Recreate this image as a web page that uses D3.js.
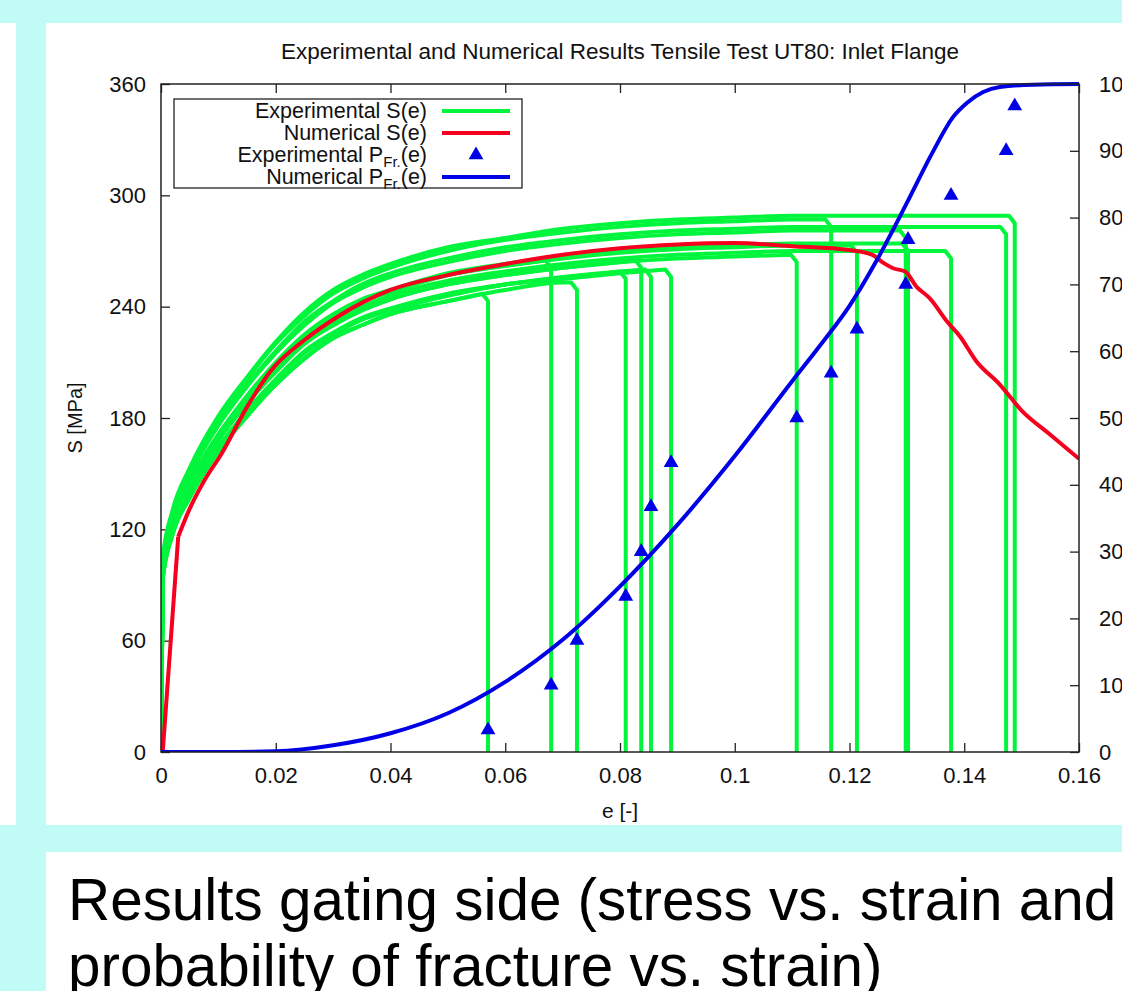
<!DOCTYPE html>
<html>
<head>
<meta charset="utf-8">
<script src="https://cdn.jsdelivr.net/npm/d3@7"></script>
<style>
  html, body { margin: 0; padding: 0; background: #c1fbf5; overflow: hidden; }
  svg { display: block; font-family: "Liberation Sans", Arial, sans-serif; }
</style>
</head>
<body>
<svg id="chart" width="1122" height="991"></svg>
<script>
// ---- data ----
const xTicks = [0, 0.02, 0.04, 0.06, 0.08, 0.1, 0.12, 0.14, 0.16]
const xTickLabels = ["0", "0.02", "0.04", "0.06", "0.08", "0.1", "0.12", "0.14", "0.16"]
const yTicks = [0, 60, 120, 180, 240, 300, 360]
const y2Ticks = [0, 10, 20, 30, 40, 50, 60, 70, 80, 90, 100]

// experimental stress-strain curves: common strain grid, one stress list per specimen
const strainGrid = [0, 0.0003, 0.002, 0.005, 0.01, 0.015, 0.02, 0.025, 0.03, 0.035, 0.04, 0.05, 0.06, 0.07, 0.08, 0.09, 0.10, 0.11, 0.12, 0.13, 0.14]
const fractureStrain = [0.0570, 0.0680, 0.0725, 0.0810, 0.0837, 0.0854, 0.0889, 0.1108, 0.1168, 0.1213, 0.1298, 0.1302, 0.1377, 0.1473, 0.1488]
const fractureStress = [247, 265, 253, 259, 265, 260, 260, 268, 287, 273, 281, 274, 270, 283, 289]
const expStress = [
  [0, 93, 117, 137, 162, 181, 198, 212, 223, 230, 236, 243],
  [0, 98, 123, 145, 171, 191, 209, 224, 235, 243, 248, 257, 262],
  [0, 93, 117, 137, 162, 181, 198, 212, 223, 230, 236, 243, 249, 253],
  [0, 94, 118, 139, 164, 183, 200, 215, 225, 233, 238, 246, 252, 255],
  [0, 96, 121, 142, 168, 188, 205, 220, 230, 238, 244, 252, 257, 261, 264],
  [0, 95, 118, 139, 164, 184, 201, 216, 226, 234, 239, 247, 252, 256, 259],
  [0, 94, 118, 139, 164, 183, 200, 215, 225, 233, 238, 246, 252, 255, 258],
  [0, 96, 121, 142, 168, 188, 205, 220, 230, 238, 244, 252, 257, 261, 264, 266, 267],
  [0, 103, 129, 152, 179, 201, 220, 235, 247, 255, 261, 270, 276, 280, 283, 285, 286, 287],
  [0, 98, 123, 145, 171, 191, 209, 224, 235, 243, 248, 257, 262, 266, 269, 271, 272, 273, 273],
  [0, 101, 126, 149, 176, 197, 215, 230, 242, 250, 256, 264, 270, 274, 277, 279, 280, 281, 281],
  [0, 99, 123, 145, 171, 192, 210, 225, 236, 244, 249, 258, 263, 267, 270, 272, 273, 274, 274],
  [0, 97, 122, 143, 169, 189, 207, 221, 232, 240, 246, 254, 259, 263, 266, 268, 269, 270, 270, 270],
  [0, 102, 127, 150, 177, 198, 216, 232, 243, 252, 258, 266, 272, 276, 279, 281, 282, 283, 283, 283, 283],
  [0, 104, 130, 153, 181, 202, 221, 237, 249, 257, 263, 272, 277, 282, 285, 287, 288, 289, 289, 289, 289]
]
// experimental probability of fracture (right axis, %) at each fracture strain
const expProb = [3.3, 10, 16.7, 23.3, 30, 36.7, 43.3, 50, 56.7, 63.3, 70, 76.7, 83.3, 90, 96.7]

// numerical stress-strain curve
const numStrain = [0, 0.0003, 0.003, 0.0047, 0.0075, 0.0106, 0.015, 0.0193, 0.025, 0.031, 0.04, 0.05, 0.06, 0.07, 0.08, 0.09, 0.10, 0.11, 0.12, 0.124, 0.1257, 0.1276, 0.1297, 0.1317, 0.134, 0.137, 0.1393, 0.142, 0.1462, 0.15, 0.155, 0.16]
const numStress = [0, 0, 116, 129, 146, 161, 186, 206, 222, 235, 249, 257, 263, 268, 271.5, 273.5, 274.3, 272.6, 270.5, 267.9, 264, 260.7, 258.9, 250.7, 244.5, 232, 223.8, 211, 198, 184, 171, 158]

// numerical probability of fracture (%)
const probStrain = [0, 0.01, 0.02, 0.03, 0.04, 0.05, 0.06, 0.07, 0.08, 0.09, 0.10, 0.11, 0.115, 0.12, 0.125, 0.13, 0.1345, 0.138, 0.1405, 0.1433, 0.1462, 0.152, 0.16]
const probValue = [0, 0, 0.1, 1.0, 2.8, 5.8, 10.5, 16.8, 24.8, 34.0, 44.3, 55.5, 61.0, 66.8, 74.0, 82.2, 89.8, 95.0, 97.2, 98.8, 99.55, 99.9, 100]

// ---- layout ----
const svg = d3.select("#chart")
const plot = {left: 161, right: 1079, top: 84, bottom: 752}
const green = "#00f53c", red = "#f5001e", blue = "#0000e6"
const ink = "#111"

// background panels
svg.append("rect").attr("x", 0).attr("y", 23).attr("width", 16).attr("height", 802).attr("fill", "#fff")
svg.append("rect").attr("x", 46).attr("y", 23).attr("width", 1076).attr("height", 802).attr("fill", "#fff")
svg.append("rect").attr("x", 46).attr("y", 852).attr("width", 1076).attr("height", 139).attr("fill", "#fff")

const x = d3.scaleLinear().domain([0, 0.16]).range([plot.left, plot.right])
const y = d3.scaleLinear().domain([0, 360]).range([plot.bottom, plot.top])
const y2 = d3.scaleLinear().domain([0, 100]).range([plot.bottom, plot.top])

svg.append("clipPath").attr("id", "clip").append("rect")
  .attr("x", plot.left).attr("y", plot.top - 3)
  .attr("width", plot.right - plot.left).attr("height", plot.bottom - plot.top + 3)

// title and axis labels
svg.append("text").attr("x", 620).attr("y", 59).attr("text-anchor", "middle")
  .attr("font-size", 22.5).attr("fill", ink)
  .text("Experimental and Numerical Results Tensile Test UT80: Inlet Flange")
svg.append("text").attr("transform", "translate(82,418) rotate(-90)").attr("text-anchor", "middle")
  .attr("font-size", 20).attr("fill", ink).text("S [MPa]")
svg.append("text").attr("x", 620).attr("y", 818).attr("text-anchor", "middle")
  .attr("font-size", 21).attr("fill", ink).text("e [-]")

// axes (gnuplot style: ticks pointing inward)
const styleAxis = g => {
  g.select(".domain").remove()
  g.selectAll("line").attr("stroke", "#222").attr("stroke-width", 1.3)
  g.selectAll("text").attr("font-size", 22).attr("fill", ink)
    .attr("font-family", "'Liberation Sans', Arial, sans-serif")
}
svg.append("g").attr("transform", `translate(0,${plot.bottom})`)
  .call(d3.axisBottom(x).tickValues(xTicks).tickFormat((d, i) => xTickLabels[i]).tickSize(-9).tickPadding(15))
  .call(styleAxis)
svg.append("g").attr("transform", `translate(0,${plot.top})`)
  .call(d3.axisTop(x).tickValues(xTicks).tickFormat("").tickSize(-9))
  .call(styleAxis)
svg.append("g").attr("transform", `translate(${plot.left},0)`)
  .call(d3.axisLeft(y).tickValues(yTicks).tickSize(-9).tickPadding(15))
  .call(styleAxis)
svg.append("g").attr("transform", `translate(${plot.right},0)`)
  .call(d3.axisRight(y2).tickValues(y2Ticks).tickSize(-9).tickPadding(20))
  .call(styleAxis)

const marks = svg.append("g").attr("clip-path", "url(#clip)")

// experimental S(e)
const curve = d3.line().x(d => x(d[0])).y(d => y(d[1])).curve(d3.curveMonotoneX)
expStress.forEach((s, i) => {
  const ef = fractureStrain[i], se = fractureStress[i]
  const pts = s.map((v, j) => [strainGrid[j], v]).filter(d => d[0] < ef - 0.0015)
  pts.push([ef - 0.001, se])
  const d = curve(pts) + `L${x(ef)},${y(se - 4)}L${x(ef)},${y(0)}`
  marks.append("path").attr("d", d).attr("fill", "none")
    .attr("stroke", green).attr("stroke-width", 4).attr("stroke-linejoin", "round")
})

// numerical S(e): straight elastic part, then smooth hardening/softening
const numPts = numStrain.map((e, i) => [e, numStress[i]])
marks.append("path")
  .attr("d", d3.line().x(d => x(d[0])).y(d => y(d[1]))(numPts.slice(0, 3)))
  .attr("fill", "none").attr("stroke", red).attr("stroke-width", 4).attr("stroke-linejoin", "round")
marks.append("path")
  .attr("d", curve(numPts.slice(2)))
  .attr("fill", "none").attr("stroke", red).attr("stroke-width", 4).attr("stroke-linejoin", "round")

// experimental P(e) triangles
const tri = d3.symbol().type(d3.symbolTriangle).size(95)
marks.selectAll(".tri").data(expProb).enter().append("path")
  .attr("transform", (d, i) => `translate(${x(fractureStrain[i])},${y2(d)})`)
  .attr("d", tri).attr("fill", blue)

// numerical P(e)
marks.append("path")
  .attr("d", d3.line().x(d => x(d[0])).y(d => y2(d[1])).curve(d3.curveMonotoneX)(probStrain.map((e, i) => [e, probValue[i]])))
  .attr("fill", "none").attr("stroke", blue).attr("stroke-width", 4).attr("stroke-linejoin", "round")

// frame
svg.append("rect").attr("x", plot.left).attr("y", plot.top)
  .attr("width", plot.right - plot.left).attr("height", plot.bottom - plot.top)
  .attr("fill", "none").attr("stroke", "#222").attr("stroke-width", 1.5)

// legend
const legend = svg.append("g")
legend.append("rect").attr("x", 174).attr("y", 99).attr("width", 348).attr("height", 89)
  .attr("fill", "none").attr("stroke", "#222").attr("stroke-width", 1.3)
const rowsY = [111, 133, 155, 177]
const addLabel = (yy, main, sub) => {
  const t = legend.append("text").attr("x", 427).attr("y", yy + 7).attr("text-anchor", "end")
    .attr("font-size", 21.5).attr("fill", ink)
  if (sub) {
    t.append("tspan").text(main)
    t.append("tspan").attr("dy", 5).attr("font-size", 15).text(sub)
    t.append("tspan").attr("dy", -5).text("(e)")
  } else {
    t.text(main + "(e)")
  }
}
addLabel(rowsY[0], "Experimental S")
addLabel(rowsY[1], "Numerical S")
addLabel(rowsY[2], "Experimental P", "Fr.")
addLabel(rowsY[3], "Numerical P", "Fr.")
legend.append("line").attr("x1", 442).attr("x2", 510).attr("y1", rowsY[0]).attr("y2", rowsY[0])
  .attr("stroke", green).attr("stroke-width", 4)
legend.append("line").attr("x1", 442).attr("x2", 510).attr("y1", rowsY[1]).attr("y2", rowsY[1])
  .attr("stroke", red).attr("stroke-width", 4)
legend.append("path").attr("transform", `translate(476,${rowsY[2]})`).attr("d", tri).attr("fill", blue)
legend.append("line").attr("x1", 442).attr("x2", 510).attr("y1", rowsY[3]).attr("y2", rowsY[3])
  .attr("stroke", blue).attr("stroke-width", 4)

// caption below the chart
svg.append("text").attr("x", 68).attr("y", 920).attr("font-size", 58.4).attr("fill", "#000")
  .text("Results gating side (stress vs. strain and")
svg.append("text").attr("x", 68).attr("y", 986).attr("font-size", 58.4).attr("fill", "#000")
  .text("probability of fracture vs. strain)")
</script>
</body>
</html>
